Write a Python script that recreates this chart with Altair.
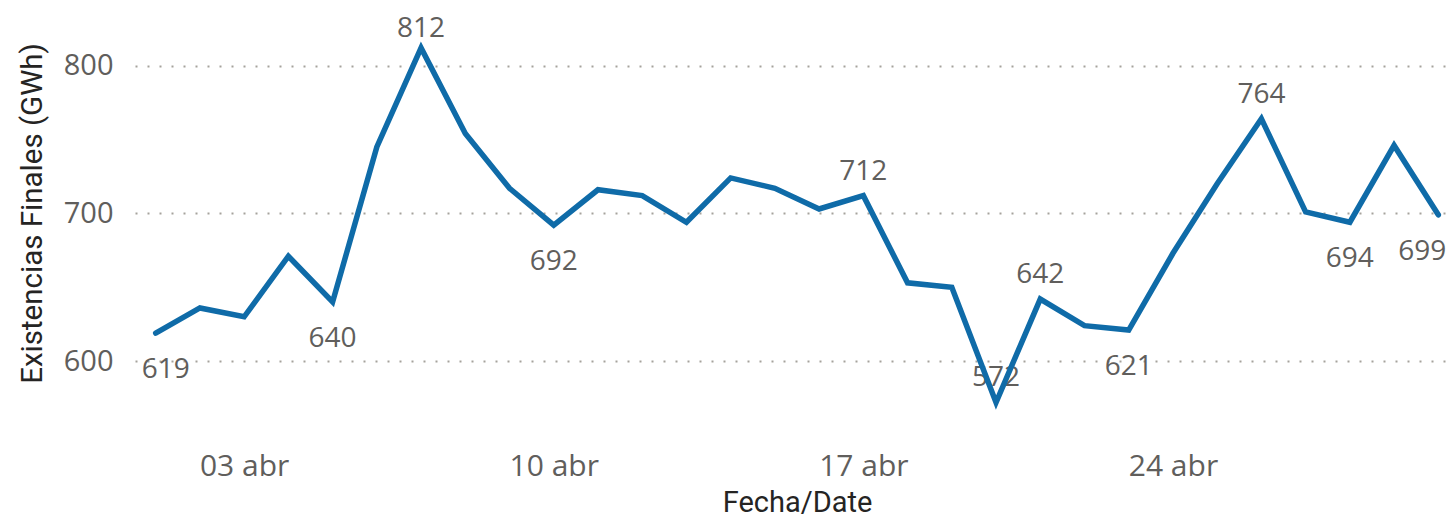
import altair as alt
import pandas as pd

fechas = [
    "2024-04-01", "2024-04-02", "2024-04-03", "2024-04-04", "2024-04-05",
    "2024-04-06", "2024-04-07", "2024-04-08", "2024-04-09", "2024-04-10",
    "2024-04-11", "2024-04-12", "2024-04-13", "2024-04-14", "2024-04-15",
    "2024-04-16", "2024-04-17", "2024-04-18", "2024-04-19", "2024-04-20",
    "2024-04-21", "2024-04-22", "2024-04-23", "2024-04-24", "2024-04-25",
    "2024-04-26", "2024-04-27", "2024-04-28", "2024-04-29", "2024-04-30",
]
valores = [
    619, 636, 630, 671, 640, 745, 812, 754, 717, 692,
    716, 712, 694, 724, 717, 703, 712, 653, 650, 572,
    642, 624, 621, 673, 720, 764, 701, 694, 746, 699,
]
# days whose value is printed, above or below the line
dia_maximo = [7]
dias_arriba = [17, 20, 21, 26]
dias_abajo = [5, 10, 23, 28]
dia_inicio = [1]
dia_fin = [30]

ticks_x = [3, 10, 17, 24]
ticks_y = [600, 700, 800]

df = pd.DataFrame({"fecha": fechas, "valor": valores})

GREY = "#605E5C"
DARK = "#252423"
BLUE = "#0F6BA8"

x_enc = alt.X(
    "fecha:T",
    scale=alt.Scale(
        type="utc",
        domain=[
            alt.DateTime(year=2024, month=3, date=31, hours=12, minutes=46, utc=True),
            alt.DateTime(year=2024, month=4, date=30, hours=4, minutes=43, utc=True),
        ],
    ),
    axis=alt.Axis(
        title="Fecha/Date",
        values=[alt.DateTime(year=2024, month=4, date=d, utc=True) for d in ticks_x],
        labelExpr="utcFormat(datum.value, '%d') + ' abr'",
        grid=False,
        domain=False,
        ticks=False,
        labelFont="Open Sans",
        labelFontSize=30,
        labelColor=GREY,
        labelPadding=16,
        labelFlush=False,
        titleFont="Roboto",
        titleFontSize=29,
        titleFontWeight=400,
        titleColor=DARK,
        titleX=662,
        titleY=67,
        titleBaseline="middle",
        titleAlign="center",
    ),
)
y_enc = alt.Y(
    "valor:Q",
    scale=alt.Scale(domain=[550, 839], zero=False, nice=False),
    axis=alt.Axis(
        title="Existencias Finales (GWh)",
        values=ticks_y,
        grid=True,
        gridDash=[2, 10],
        gridWidth=2,
        gridColor="#A5A29C",
        domain=False,
        ticks=False,
        labelFont="Open Sans",
        labelFontSize=29,
        labelColor=GREY,
        labelPadding=22,
        titleFont="Roboto",
        titleFontSize=29.5,
        titleFontWeight=400,
        titleColor=DARK,
        titleAngle=-90,
        titleX=-103,
        titleY=205,
        titleBaseline="middle",
        titleAlign="center",
    ),
)

base = alt.Chart(df).transform_calculate(dia="utcdate(datum.fecha)")


def etiquetas(dias, dy, dx=0):
    return (
        base.transform_filter(alt.FieldOneOfPredicate(field="dia", oneOf=dias))
        .mark_text(
            font="Open Sans",
            fontSize=28,
            color=GREY,
            baseline="alphabetic",
            align="center",
            dy=dy,
            dx=dx,
        )
        .encode(x=x_enc, y=y_enc, text=alt.Text("valor:Q", format="d"))
    )


linea = base.mark_line(
    color=BLUE, strokeWidth=5.5, strokeCap="round", strokeJoin="miter"
).encode(x=x_enc, y=y_enc)

chart = (
    alt.layer(
        etiquetas(dia_maximo, -11),
        etiquetas(dias_arriba, -16),
        etiquetas(dias_abajo, 45),
        etiquetas(dia_inicio, 45, 10),
        etiquetas(dia_fin, 45, -16),
        linea,
    )
    .properties(
        width=1312,
        height=427,
        autosize=alt.AutoSizeParams(type="none"),
        padding={"left": 127, "top": 0, "right": 0, "bottom": 82},
        background="white",
    )
    .configure_view(stroke=None)
)

chart.save("out.html", embed_options={"renderer": "svg", "actions": False})
